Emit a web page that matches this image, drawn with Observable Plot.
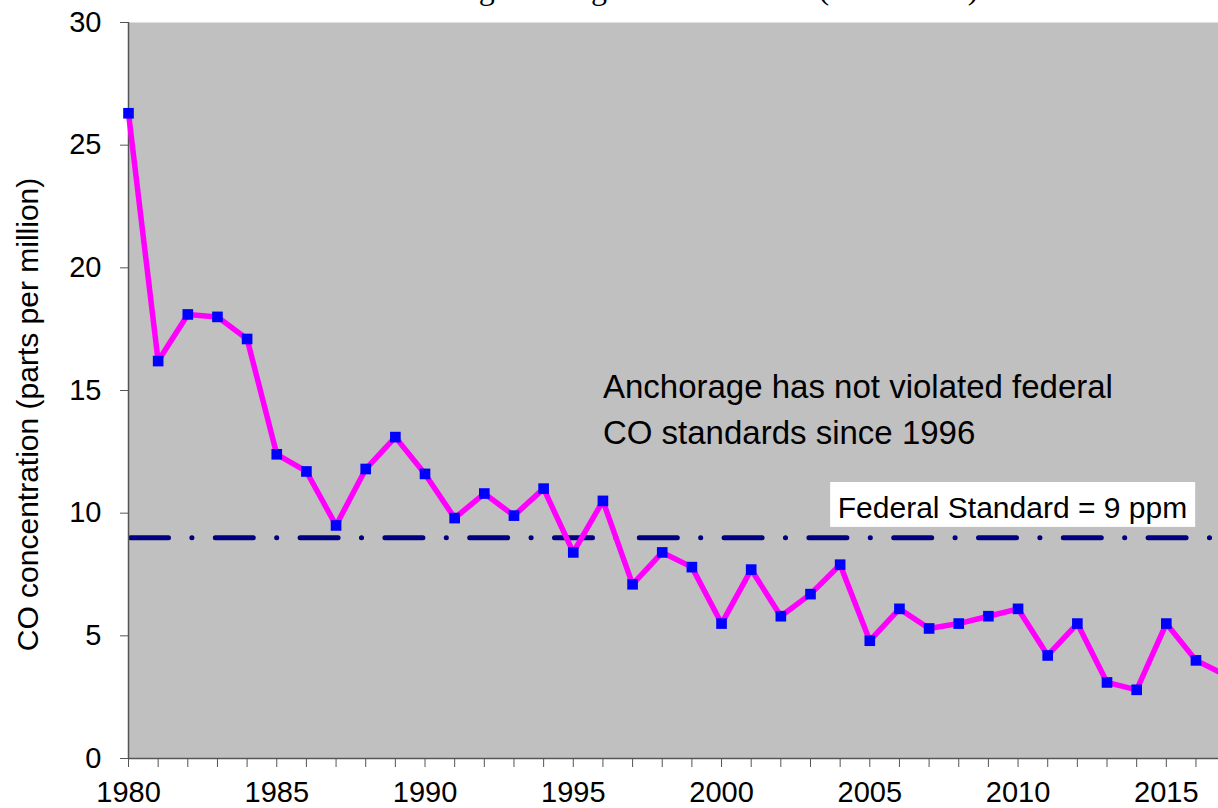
<!DOCTYPE html>
<html>
<head>
<meta charset="utf-8">
<script src="https://cdn.jsdelivr.net/npm/d3@7"></script>
<script src="https://cdn.jsdelivr.net/npm/@observablehq/plot@0.6"></script>
<style>
  html, body { margin: 0; padding: 0; background: #fff; overflow: hidden; }
  #chart svg { display: block; }
</style>
</head>
<body>
<div id="chart"></div>
<script>
// ---- data ----
const years = [1980, 1981, 1982, 1983, 1984, 1985, 1986, 1987, 1988, 1989,
               1990, 1991, 1992, 1993, 1994, 1995, 1996, 1997, 1998, 1999,
               2000, 2001, 2002, 2003, 2004, 2005, 2006, 2007, 2008, 2009,
               2010, 2011, 2012, 2013, 2014, 2015, 2016, 2017];
const coValues = [26.3, 16.2, 18.1, 18.0, 17.1, 12.4, 11.7, 9.5, 11.8, 13.1,
                  11.6, 9.8, 10.8, 9.9, 11.0, 8.4, 10.5, 7.1, 8.4, 7.8,
                  5.5, 7.7, 5.8, 6.7, 7.9, 4.8, 6.1, 5.3, 5.5, 5.8,
                  6.1, 4.2, 5.5, 3.1, 2.8, 5.5, 4.0, 3.4];
const standardValue = 9;
const yTicks = [0, 5, 10, 15, 20, 25, 30];
const xTickYears = [1980, 1981, 1982, 1983, 1984, 1985, 1986, 1987, 1988, 1989,
                    1990, 1991, 1992, 1993, 1994, 1995, 1996, 1997, 1998, 1999,
                    2000, 2001, 2002, 2003, 2004, 2005, 2006, 2007, 2008, 2009,
                    2010, 2011, 2012, 2013, 2014, 2015, 2016];
const xLabelYears = [1980, 1985, 1990, 1995, 2000, 2005, 2010, 2015];
const titleText = "Anchorage Average Concentration (1980-2017)";
const yLabel = "CO concentration (parts per million)";
const noteText = "Anchorage has not violated federal\nCO standards since 1996";
const standardLabel = "Federal Standard = 9 ppm";

// annotation anchors (in data units)
const note = {year: 1996, value: 12.8};
const stdBox = {x1: 2003.68, x2: 2015.99, y1: 9.42, y2: 11.25, textYear: 2003.92, textValue: 9.82};

const data = years.map((year, i) => ({year, value: coValues[i]}));

const chart = Plot.plot({
  width: 1218,
  height: 808,
  marginLeft: 128,
  marginRight: 0,
  marginTop: 22,
  marginBottom: 50,
  style: {fontFamily: "'Liberation Sans', Arial, sans-serif", background: "#fff", color: "#000", overflow: "visible"},
  x: {domain: [1980, 2016.76], axis: null},
  y: {domain: [0, 30], axis: null},
  marks: [
    Plot.frame({fill: "#C0C0C0", stroke: null}),
    Plot.ruleY([standardValue], {
      stroke: "#000080", strokeWidth: 5,
      strokeDasharray: "38,23.35,0.1,23.35", strokeDashoffset: -2.5, strokeLinecap: "round"
    }),
    Plot.rect([stdBox], {x1: "x1", x2: "x2", y1: "y1", y2: "y2", fill: "#fff"}),
    Plot.text([standardLabel], {
      x: () => stdBox.textYear, y: () => stdBox.textValue,
      textAnchor: "start", lineAnchor: "bottom", fontSize: 30, fill: "#000"
    }),
    Plot.text([noteText], {
      x: () => note.year, y: () => note.value,
      textAnchor: "start", lineAnchor: "bottom", fontSize: 33, lineHeight: 1.4, fill: "#000"
    }),
    Plot.ruleX([1980], {stroke: "#555", strokeWidth: 1.5}),
    Plot.ruleY([0], {stroke: "#555", strokeWidth: 1.5}),
    Plot.line(data, {x: "year", y: "value", stroke: "#FF00FF", strokeWidth: 5.5}),
    Plot.dot(data, {x: "year", y: "value", symbol: "square", fill: "#0000FF", r: 6}),
    Plot.axisY({ticks: yTicks, tickSize: 8, tickPadding: 19, fontSize: 29, stroke: "#555", fill: "#000", label: null, tickFormat: d => String(d)}),
    Plot.axisX({ticks: xTickYears, tickSize: 9, stroke: "#555", label: null, tickFormat: () => ""}),
    Plot.axisX({ticks: xLabelYears, tickSize: 0, tickPadding: 23, fontSize: 29, fill: "#000", label: null, tickFormat: d => String(d)}),
    Plot.text([yLabel], {frameAnchor: "left", textAnchor: "middle", lineAnchor: "middle", dx: -100, dy: 24, rotate: -90, fontSize: 30, fill: "#000"}),
    Plot.text([titleText], {frameAnchor: "top", dy: -24, lineAnchor: "bottom", fontSize: 32, fontFamily: "'Liberation Serif', 'Times New Roman', serif", fill: "#000"})
  ]
});
document.getElementById("chart").appendChild(chart);
</script>
</body>
</html>
